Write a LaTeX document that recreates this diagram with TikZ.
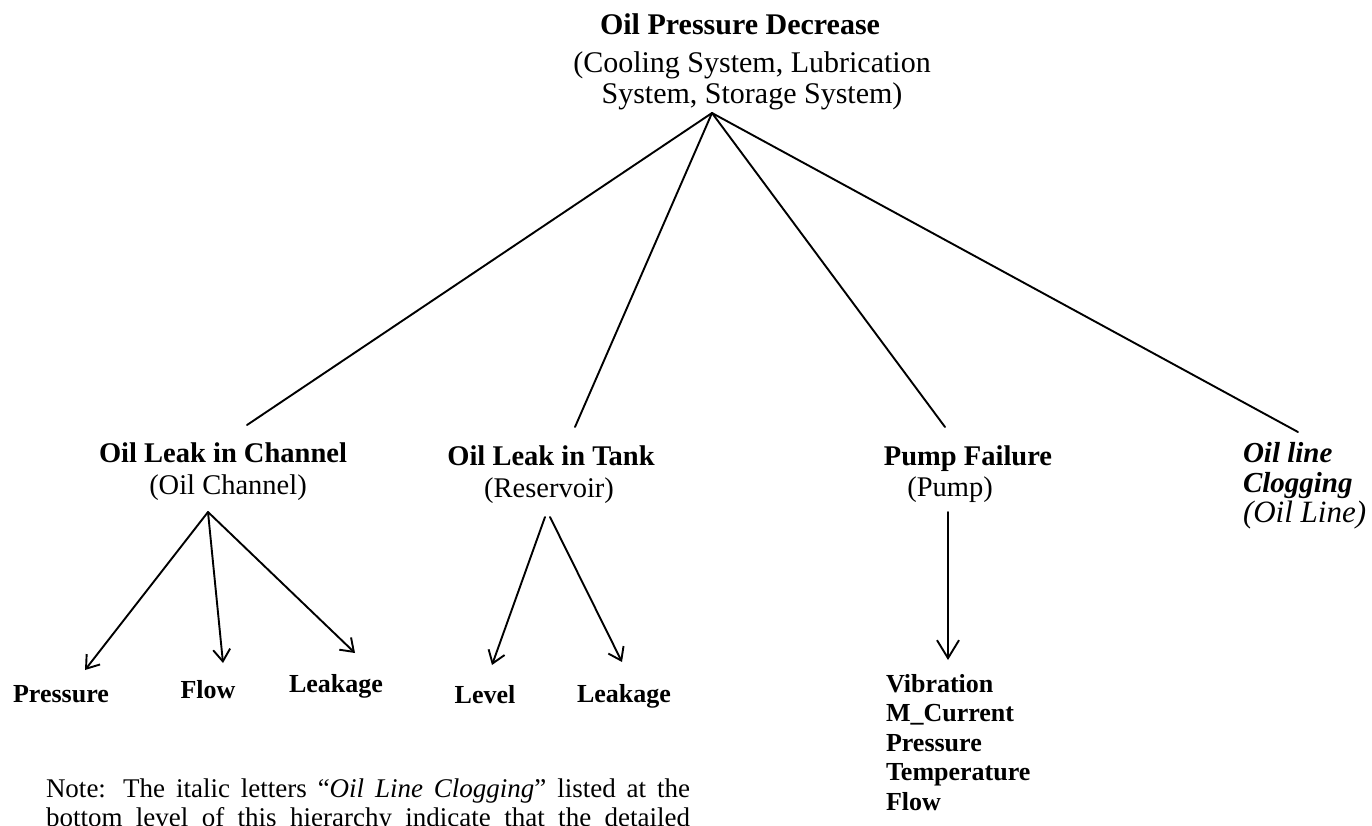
\documentclass[tikz,border=0pt]{standalone}
\usepackage{fontspec}
\setmainfont{Liberation Serif}
\usetikzlibrary{arrows.meta}
\begin{document}
\begin{tikzpicture}[x=1pt,y=-1pt,
  txt/.style={inner sep=0pt, outer sep=0pt, anchor=base},
  toptitle/.style={txt, font=\fontsize{30}{34}\selectfont\bfseries},
  topsub/.style={txt, font=\fontsize{30}{34}\selectfont},
  head/.style={txt, font=\fontsize{28.5}{33}\selectfont\bfseries},
  sub/.style={txt, font=\fontsize{28.5}{33}\selectfont},
  leaf/.style={txt, font=\fontsize{26}{29.5}\selectfont\bfseries},
  link/.style={line width=1.9pt, line cap=round},
  arr/.style={link, -{Straight Barb[length=12pt,width=17pt,line width=1.9pt]}},
  bigarr/.style={link, -{Straight Barb[length=18pt,width=22pt,line width=1.9pt]}}
]
\clip (0,0) rectangle (1372,825);
\useasboundingbox (0,0) rectangle (1372,825);

% top event
\node[toptitle] (root) at (740,34) {Oil Pressure Decrease};
\node[topsub] (rootA) at (752,72) {(Cooling System, Lubrication};
\node[topsub] (rootB) at (752,103) {System, Storage System)};
\coordinate (apex) at (712,113);

% second level
\node[head] (chan) at (223,462) {Oil Leak in Channel};
\node[sub] (chanS) at (228,494) {(Oil Channel)};
\node[head] (tank) at (551,465) {Oil Leak in Tank};
\node[sub] (tankS) at (549,497) {(Reservoir)};
\node[head] (pump) at (968,465) {Pump Failure};
\node[sub] (pumpS) at (950,496) {(Pump)};
\node[txt, anchor=base west, font=\fontsize{29}{33}\selectfont\bfseries\itshape] (clog) at (1243,462) {Oil line};
\node[txt, anchor=base west, font=\fontsize{29}{33}\selectfont\bfseries\itshape] (clogB) at (1243,492) {Clogging};
\node[txt, anchor=base west, font=\fontsize{31}{34}\selectfont\itshape] (clogS) at (1243,522) {(Oil Line)};

% line ends under the top event
\coordinate (chanTop) at (247,425);
\coordinate (tankTop) at (575,427);
\coordinate (pumpTop) at (945,427);
\coordinate (clogTop) at (1298,432);

\draw[link] (apex) -- (chanTop);
\draw[link] (apex) -- (tankTop);
\draw[link] (apex) -- (pumpTop);
\draw[link] (apex) -- (clogTop);

% measured signals
\node[leaf] (pres) at (61,702) {Pressure};
\node[leaf] (flow) at (208,698) {Flow};
\node[leaf] (leak) at (336,692) {Leakage};
\node[leaf] (level) at (485,703) {Level};
\node[leaf] (leakT) at (624,702) {Leakage};
\node[leaf, anchor=base west] (pumpSig) at (886,692)
  {\begin{tabular}[t]{@{}l@{}}Vibration\\M\_Current\\Pressure\\Temperature\\Flow\end{tabular}};

% arrow roots and tips
\coordinate (chanBot) at (208,512);
\coordinate (tankBotL) at (545,517);
\coordinate (tankBotR) at (550,517);
\coordinate (pumpBot) at (948,512);
\coordinate (presTip) at (85,670);
\coordinate (flowTip) at (223,663);
\coordinate (leakTip) at (355,653);
\coordinate (levelTip) at (492,665);
\coordinate (leakTTip) at (622,662);
\coordinate (pumpTip) at (948,660);

\draw[arr] (chanBot) -- (presTip);
\draw[arr] (chanBot) -- (flowTip);
\draw[arr] (chanBot) -- (leakTip);
\draw[arr] (tankBotL) -- (levelTip);
\draw[arr] (tankBotR) -- (leakTTip);
\draw[bigarr] (pumpBot) -- (pumpTip);

% note below the tree
\node[txt, anchor=base west, font=\fontsize{27}{29}\selectfont] (note) at (46,797)
  {\begin{tabular}[t]{@{}l@{}}
   \makebox[644pt][s]{Note: The italic letters ``\textit{Oil Line Clogging}'' listed at the}\\
   \makebox[644pt][s]{bottom level of this hierarchy indicate that the detailed}
   \end{tabular}};
\end{tikzpicture}
\end{document}
